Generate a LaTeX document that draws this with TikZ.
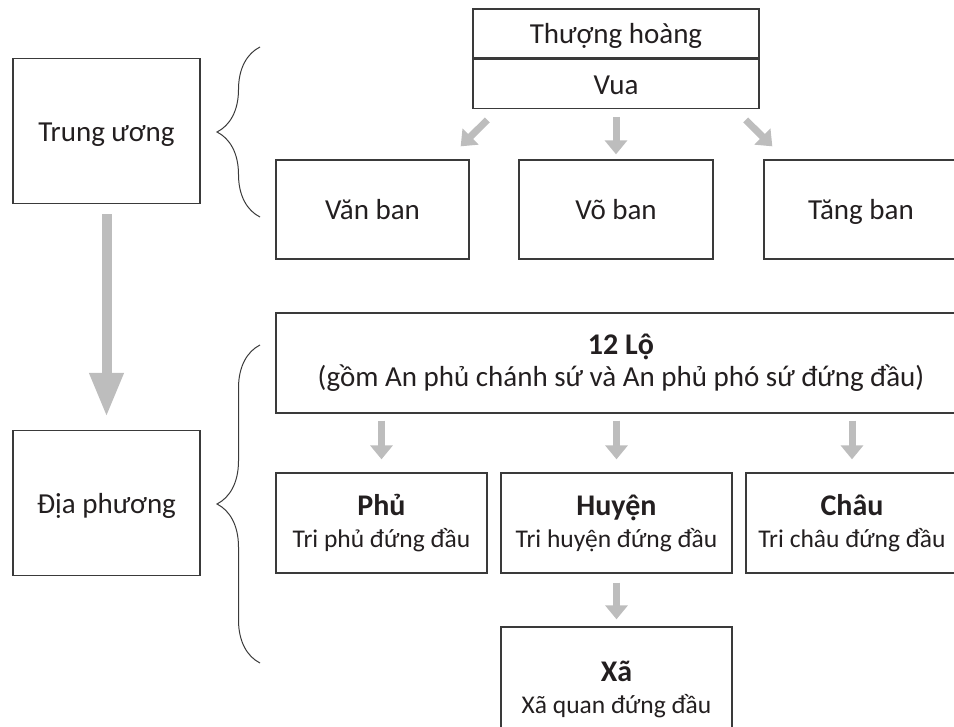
\documentclass[tikz,border=0pt]{standalone}
\usepackage{fontspec}
\setmainfont{Carlito}
\usepackage{xcolor}
\usetikzlibrary{positioning,arrows.meta,decorations.pathreplacing,calc}
\definecolor{boxline}{HTML}{3A3A3A}
\definecolor{arrowgray}{HTML}{BDBDBD}
\definecolor{inkdark}{HTML}{231F20}
\newcommand{\boxtitle}[1]{{\fontsize{30}{32}\selectfont\bfseries #1}}
\newcommand{\boxsub}[1]{{\fontsize{25.5}{32}\selectfont #1}}

\begin{document}
\begin{tikzpicture}[x=1pt,y=-1pt,
  box/.style={draw=boxline,line width=1.3pt,text=inkdark,align=center,inner sep=0pt,
    font=\fontsize{29}{32}\selectfont},
  onebox/.style={box,text height=25pt,text depth=4pt},
  arr/.style={draw=arrowgray,line width=7pt,-{Triangle[width=22pt,length=14pt]}},
  bigarr/.style={draw=arrowgray,line width=10pt,-{Triangle[width=32pt,length=44pt]}},
  brc/.style={draw=boxline,line width=1pt,decorate,decoration={brace,amplitude=43pt}}]
\useasboundingbox (0,0) rectangle (954,727);
\clip (0,0) rectangle (954,727);

\node[onebox,minimum width=286pt,minimum height=49pt] (thuonghoang) at (616,33.5) {Thượng hoàng};
\node[onebox,minimum width=286pt,minimum height=49pt,anchor=north] (vua) at (thuonghoang.south) {Vua};
\node[onebox,minimum width=187pt,minimum height=145pt] (trunguong) at (106.5,131) {Trung ương};
\node[onebox,minimum width=193pt,minimum height=99pt] (vanban) at (372.5,209.5) {Văn ban};
\node[onebox,minimum width=194pt,minimum height=99pt] (voban) at (616,209.5) {Võ ban};
\node[onebox,minimum width=194pt,minimum height=99pt] (tangban) at (861,209.5) {Tăng ban};

\node[onebox,minimum width=187pt,minimum height=145pt] (diaphuong) at (106.5,503) {Địa phương};
\node[box,minimum width=690pt,minimum height=100pt] (lo12) at (621,363)
  {\boxtitle{12 Lộ}\\(gồm An phủ chánh sứ và An phủ phó sứ đứng đầu)};
\node[box,minimum width=211pt,minimum height=100pt] (phu) at (381.5,523) {\boxtitle{Phủ}\\\boxsub{Tri phủ đứng đầu}};
\node[box,minimum width=231pt,minimum height=100pt] (huyen) at (616.5,523) {\boxtitle{Huyện}\\\boxsub{Tri huyện đứng đầu}};
\node[box,minimum width=212pt,minimum height=100pt] (chau) at (852,523) {\boxtitle{Châu}\\\boxsub{Tri châu đứng đầu}};
\node[box,minimum width=231pt,minimum height=124pt] (xa) at (616.5,689) {\boxtitle{Xã}\\\boxsub{Xã quan đứng đầu}};

\coordinate (bracetopa) at (260,217);
\coordinate (bracetopb) at (260,47);
\coordinate (bracebota) at (260,663);
\coordinate (bracebotb) at (260,345);
\draw[brc] (bracetopa) -- (bracetopb);
\draw[brc] (bracebota) -- (bracebotb);

\draw[arr] ($(vua.south west)+(15,11)$) -- ($(vanban.north east)+(-9,-13)$);
\draw[arr,shorten <=8pt,shorten >=5pt] (vua) -- (voban);
\draw[arr] ($(vua.south east)+(-14,11)$) -- ($(tangban.north west)+(9,-13)$);
\draw[bigarr,shorten <=10pt,shorten >=13pt] (trunguong) -- (diaphuong);

\draw[arr,shorten <=7pt,shorten >=13pt] (lo12.south -| phu) -- (phu);
\draw[arr,shorten <=7pt,shorten >=13pt] (lo12.south -| huyen) -- (huyen);
\draw[arr,shorten <=7pt,shorten >=13pt] (lo12.south -| chau) -- (chau);
\draw[arr,shorten <=9pt,shorten >=7pt] (huyen) -- (xa);
\end{tikzpicture}
\end{document}
